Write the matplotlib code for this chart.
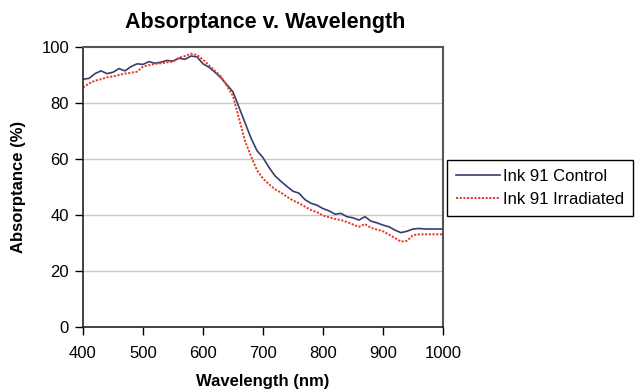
import numpy as np
import matplotlib
matplotlib.use("Agg")
import matplotlib.pyplot as plt

plt.rcParams['font.family'] = ['Liberation Sans', 'DejaVu Sans']

# Data (10 nm steps)
wavelength = list(range(400, 1001, 10))

control = [88.5, 88.8, 90.5, 91.5, 90.5, 91.0, 92.3, 91.5, 93.0, 94.0,
           93.8, 94.8, 94.2, 94.6, 95.2, 95.0, 96.0, 95.6, 96.8, 96.5,
           94.0, 92.8, 91.0, 89.0, 86.5, 84.0, 78.5, 73.0, 67.5, 63.0,
           60.5, 57.0, 54.0, 52.0, 50.2, 48.5, 47.8, 45.5, 44.2, 43.5,
           42.3, 41.5, 40.3, 40.6, 39.4, 39.0, 38.2, 39.4, 37.8, 37.2,
           36.4, 35.8, 34.6, 33.7, 34.2, 35.0, 35.2, 35.0, 35.0, 35.0,
           35.0]

irradiated = [85.5, 87.0, 88.0, 88.5, 89.2, 89.5, 90.0, 90.5, 90.8, 91.2,
              93.0, 93.5, 94.0, 94.2, 94.5, 94.8, 96.2, 96.8, 97.6, 97.2,
              95.5, 93.5, 91.5, 89.5, 86.0, 82.5, 74.5, 66.5, 61.0, 56.0,
              53.0, 51.0, 49.2, 48.0, 46.5, 45.2, 44.2, 43.0, 41.8, 41.0,
              39.8, 39.2, 38.6, 38.2, 37.5, 36.6, 35.8, 36.8, 35.4, 34.8,
              34.2, 33.0, 31.8, 30.5, 30.8, 32.8, 33.1, 33.1, 33.1, 33.1,
              33.1]

x_ticks = [400, 500, 600, 700, 800, 900, 1000]
y_ticks = [0, 20, 40, 60, 80, 100]

fig = plt.figure(figsize=(6.36, 3.92), dpi=100)
ax = fig.add_axes([0.1305, 0.1658, 0.566, 0.7142])

for y in y_ticks[1:-1]:
    ax.axhline(y, color="#c8c8c8", linewidth=1, zorder=0)

ax.plot(wavelength, control, color="#3b3b6e", linewidth=1.2, label="Ink 91 Control")
ax.plot(wavelength, irradiated, color="#e83a25", linewidth=1.4,
        linestyle=(0, (1.1, 0.8)), label="Ink 91 Irradiated")

ax.set_xlim(400, 1000)
ax.set_ylim(0, 100)
ax.set_xticks(x_ticks)
ax.set_yticks(y_ticks)
ax.tick_params(direction="out", length=6, width=1, labelsize=12)
ax.tick_params(axis="x", pad=8)
ax.tick_params(axis="y", pad=4)

for side in ["left", "bottom"]:
    ax.spines[side].set_color("#222222")
    ax.spines[side].set_linewidth(1.2)
for side in ["top", "right"]:
    ax.spines[side].set_color("#555555")
    ax.spines[side].set_linewidth(1.5)

ax.set_xlabel("Wavelength (nm)", fontsize=12, fontweight="bold", labelpad=9)
ax.set_ylabel("Absorptance (%)", fontsize=12, fontweight="bold", labelpad=11)

fig.text(0.417, 0.942, "Absorptance v. Wavelength", ha="center", va="center",
         fontsize=15.5, fontweight="bold")

leg = fig.legend(loc="upper left", bbox_to_anchor=(0.703, 0.592), fontsize=12,
                 fancybox=False, edgecolor="black", framealpha=1,
                 handlelength=2.6, handletextpad=0.2, borderpad=0.55,
                 labelspacing=0.45, borderaxespad=0)
leg.get_frame().set_linewidth(1)

fig.savefig("out.png", dpi=100)
